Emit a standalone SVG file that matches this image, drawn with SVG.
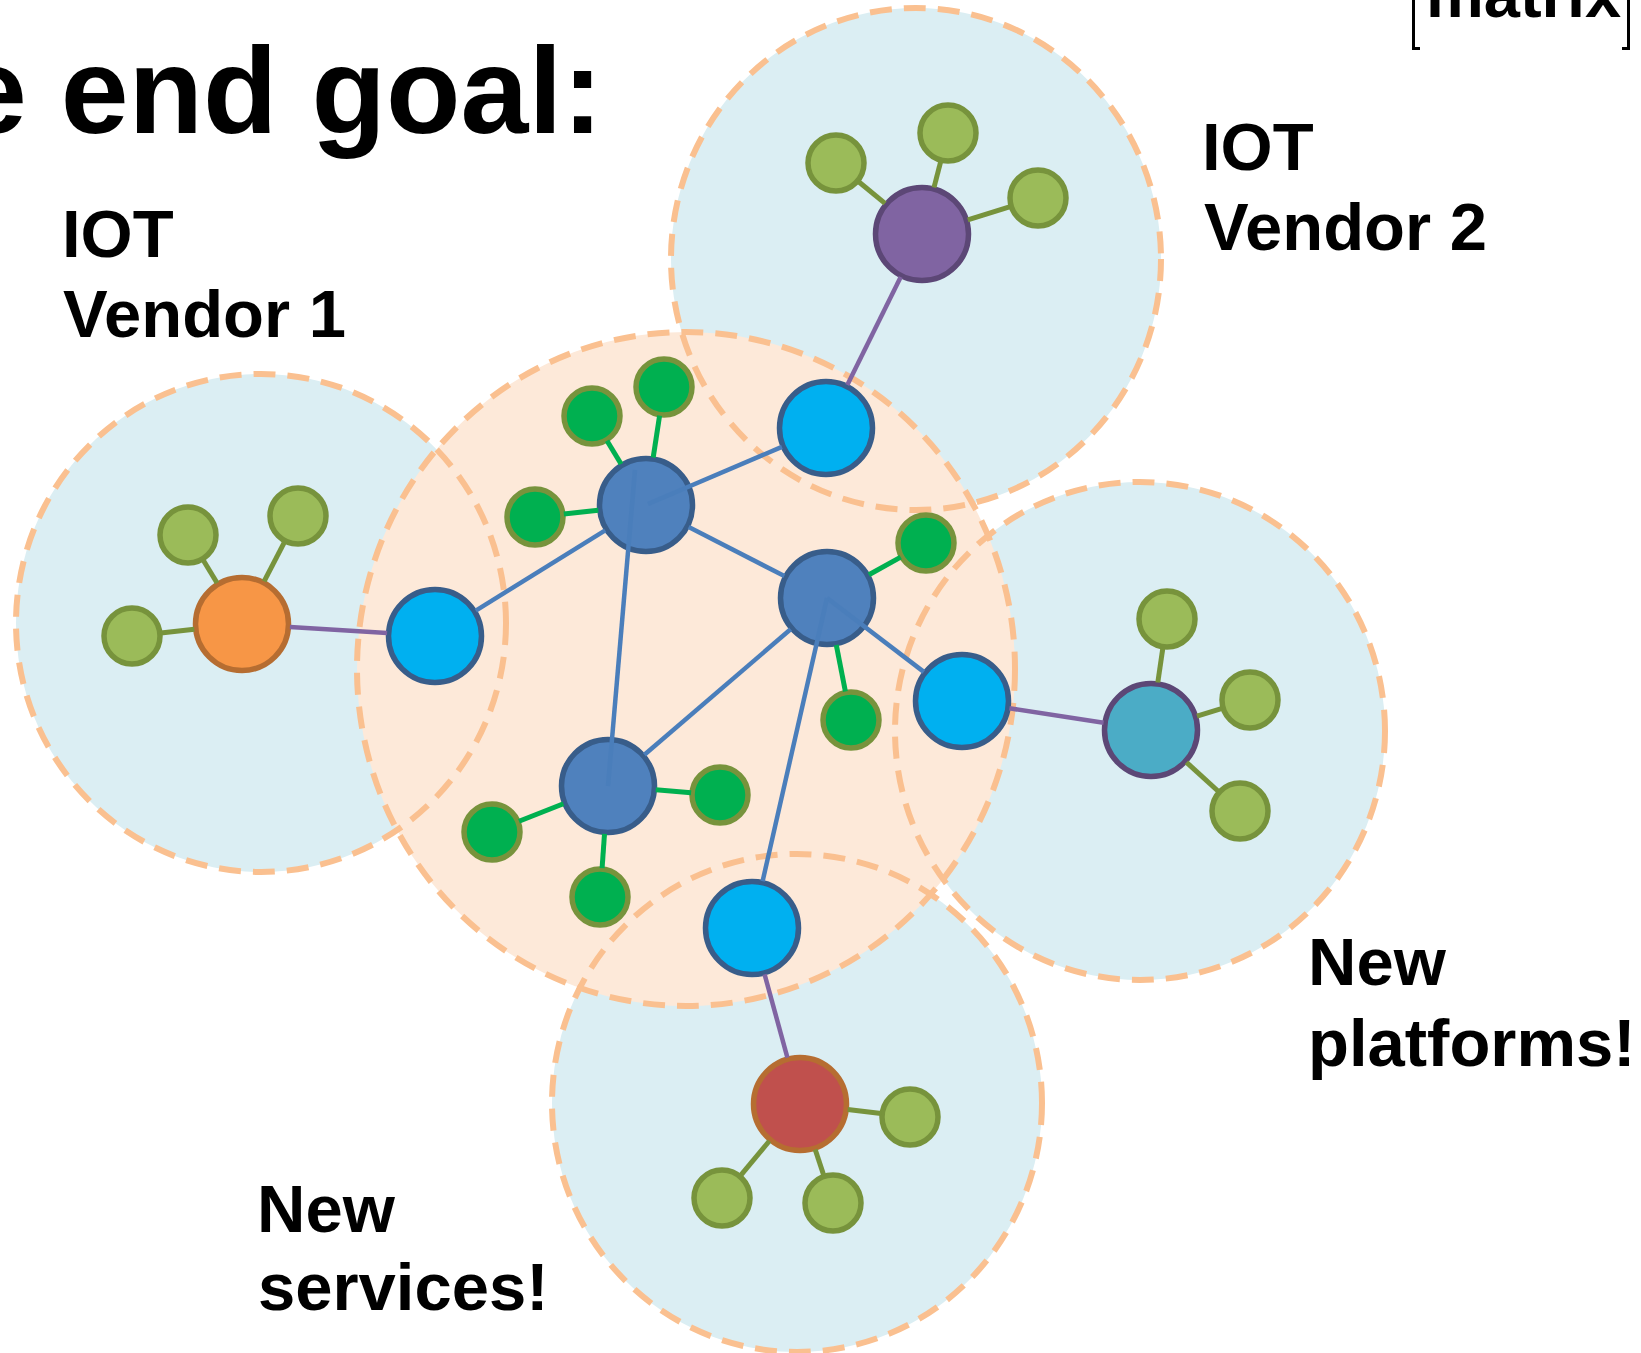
<svg xmlns="http://www.w3.org/2000/svg" width="1641" height="1353" viewBox="0 0 1641 1353">
<style>
.txt{font-family:"Liberation Sans",Arial,sans-serif;font-weight:bold;fill:#000}
.lbl{font-size:67px}
.rf-blue{fill:#DBEEF3}
.rf-peach{fill:#FDE9D9}
.ro{fill:none;stroke:#FAC090;stroke-width:6;stroke-dasharray:22 12}
.hub{fill:#4F81BD;stroke:#385D8A;stroke-width:5.5}
.cy{fill:#00B0F0;stroke:#385D8A;stroke-width:5.5}
.gd{fill:#00B050;stroke:#77933C;stroke-width:5.5}
.lg{fill:#9BBB59;stroke:#77933C;stroke-width:5.5}
.e-blue{stroke:#4A7EBB;stroke-width:4.5}
.e-purple{stroke:#8064A2;stroke-width:4.5}
.e-green{stroke:#00B050;stroke-width:5}
.e-olive{stroke:#77933C;stroke-width:5}
</style>
<rect width="1641" height="1353" fill="#FFFFFF"/>
<g id="region-fills">
<ellipse id="region-vendor1" class="rf-blue" cx="261" cy="623" rx="245" ry="249"/>
<ellipse id="region-vendor2" class="rf-blue" cx="916" cy="259" rx="245" ry="251"/>
<ellipse id="region-platforms" class="rf-blue" cx="1140" cy="731" rx="245" ry="249"/>
<ellipse id="region-services" class="rf-blue" cx="797" cy="1103" rx="245" ry="249"/>
<ellipse id="region-core" class="rf-peach" cx="686" cy="669" rx="329" ry="337"/>
</g>
<g id="region-outlines">
<ellipse class="ro" cx="261" cy="623" rx="245" ry="249"/>
<ellipse class="ro" cx="916" cy="259" rx="245" ry="251"/>
<ellipse class="ro" cx="1140" cy="731" rx="245" ry="249"/>
<ellipse class="ro" cx="797" cy="1103" rx="245" ry="249"/>
<ellipse class="ro" cx="686" cy="669" rx="329" ry="337"/>
</g>
<g id="nodes">
<g id="hub-top"><circle class="hub" cx="646" cy="505" r="46.5"/></g>
<g id="hub-mid"><circle class="hub" cx="827" cy="598" r="46.5"/></g>
<g id="hub-low"><circle class="hub" cx="608" cy="786" r="46.5"/></g>
<g id="gw-left"><circle class="cy" cx="435" cy="636" r="46.5"/></g>
<g id="gw-top"><circle class="cy" cx="826" cy="428" r="46.5"/></g>
<g id="gw-right"><circle class="cy" cx="962" cy="701" r="46.5"/></g>
<g id="gw-bottom"><circle class="cy" cx="752" cy="928" r="46.5"/></g>
<g id="core-g1"><circle class="gd" cx="535" cy="517" r="28"/></g>
<g id="core-g2"><circle class="gd" cx="592" cy="416" r="28"/></g>
<g id="core-g3"><circle class="gd" cx="664" cy="387" r="28"/></g>
<g id="core-g4"><circle class="gd" cx="926" cy="543" r="28"/></g>
<g id="core-g5"><circle class="gd" cx="851" cy="720" r="28"/></g>
<g id="core-g6"><circle class="gd" cx="492" cy="832" r="28"/></g>
<g id="core-g7"><circle class="gd" cx="720" cy="795" r="28"/></g>
<g id="core-g8"><circle class="gd" cx="600" cy="897" r="28"/></g>
<g id="vendor1-hub"><circle cx="242" cy="624" r="46.5" fill="#F79646" stroke="#B66D31" stroke-width="5.5"/></g>
<g id="vendor1-d1"><circle class="lg" cx="132" cy="636" r="28"/></g>
<g id="vendor1-d2"><circle class="lg" cx="188" cy="535" r="28"/></g>
<g id="vendor1-d3"><circle class="lg" cx="298" cy="516" r="28"/></g>
<g id="vendor2-hub"><circle cx="922" cy="234" r="46.5" fill="#8064A2" stroke="#5C4776" stroke-width="5.5"/></g>
<g id="vendor2-d1"><circle class="lg" cx="836" cy="163" r="28"/></g>
<g id="vendor2-d2"><circle class="lg" cx="948" cy="133" r="28"/></g>
<g id="vendor2-d3"><circle class="lg" cx="1038" cy="198" r="28"/></g>
<g id="platform-hub"><circle cx="1151" cy="730" r="46.5" fill="#4BACC6" stroke="#5C4776" stroke-width="5.5"/></g>
<g id="platform-d1"><circle class="lg" cx="1167" cy="619" r="28"/></g>
<g id="platform-d2"><circle class="lg" cx="1250" cy="700" r="28"/></g>
<g id="platform-d3"><circle class="lg" cx="1240" cy="811" r="28"/></g>
<g id="service-hub"><circle cx="800" cy="1104" r="46.5" fill="#C0504D" stroke="#B66D31" stroke-width="5.5"/></g>
<g id="service-d1"><circle class="lg" cx="910" cy="1117" r="28"/></g>
<g id="service-d2"><circle class="lg" cx="722" cy="1198" r="28"/></g>
<g id="service-d3"><circle class="lg" cx="833" cy="1203" r="28"/></g>
</g>
<g id="connectors" fill="none">
<line class="e-blue" x1="605.2" y1="530.3" x2="475.8" y2="610.7"/>
<line class="e-blue" x1="648" y1="504" x2="781.9" y2="446.9"/>
<line class="e-blue" x1="688.7" y1="526.9" x2="784.3" y2="576.1"/>
<line class="e-blue" x1="635" y1="470" x2="608" y2="786"/>
<line class="e-blue" x1="644.4" y1="754.7" x2="790.6" y2="629.3"/>
<line class="e-blue" x1="827" y1="598" x2="923.8" y2="671.9"/>
<line class="e-blue" x1="827" y1="598" x2="762.6" y2="881.2"/>
<line class="e-purple" x1="387.1" y1="633" x2="289.9" y2="627"/>
<line class="e-purple" x1="847.3" y1="385" x2="900.7" y2="277"/>
<line class="e-purple" x1="1009.4" y1="708.3" x2="1103.6" y2="722.7"/>
<line class="e-purple" x1="764.6" y1="974.3" x2="787.4" y2="1057.7"/>
<line class="e-green" x1="598.3" y1="510.2" x2="563.8" y2="513.9"/>
<line class="e-green" x1="621.1" y1="464" x2="607" y2="440.8"/>
<line class="e-green" x1="653.2" y1="457.5" x2="659.6" y2="415.7"/>
<line class="e-green" x1="868.9" y1="574.7" x2="900.7" y2="557.1"/>
<line class="e-green" x1="836.3" y1="645.1" x2="845.4" y2="691.5"/>
<line class="e-green" x1="563.4" y1="803.7" x2="519" y2="821.3"/>
<line class="e-green" x1="655.8" y1="789.8" x2="691.1" y2="792.7"/>
<line class="e-green" x1="604.5" y1="833.9" x2="602.1" y2="868.1"/>
<line class="e-olive" x1="194.3" y1="629.2" x2="160.8" y2="632.9"/>
<line class="e-olive" x1="217.1" y1="583" x2="203" y2="559.8"/>
<line class="e-olive" x1="264.1" y1="581.4" x2="284.7" y2="541.7"/>
<line class="e-olive" x1="885" y1="203.4" x2="858.4" y2="181.5"/>
<line class="e-olive" x1="934" y1="187.5" x2="940.8" y2="161.1"/>
<line class="e-olive" x1="967.8" y1="219.8" x2="1010.3" y2="206.6"/>
<line class="e-olive" x1="1157.8" y1="682.5" x2="1162.9" y2="647.7"/>
<line class="e-olive" x1="1197" y1="716.1" x2="1222.2" y2="708.4"/>
<line class="e-olive" x1="1186.5" y1="762.3" x2="1218.5" y2="791.5"/>
<line class="e-olive" x1="847.7" y1="1109.6" x2="881.2" y2="1113.6"/>
<line class="e-olive" x1="769.3" y1="1141" x2="740.5" y2="1175.7"/>
<line class="e-olive" x1="815.2" y1="1149.5" x2="823.8" y2="1175.5"/>
</g>
<g id="labels">
<text class="txt" x="-41" y="133" font-size="122">e end goal:</text>
<text class="txt lbl" x="62" y="257">IOT</text>
<text class="txt lbl" x="63" y="337">Vendor 1</text>
<text class="txt lbl" x="1202" y="170">IOT</text>
<text class="txt lbl" x="1204" y="250">Vendor 2</text>
<text class="txt lbl" x="1308" y="985">New</text>
<text class="txt lbl" x="1308" y="1066">platforms!</text>
<text class="txt lbl" x="257" y="1232">New</text>
<text class="txt lbl" x="258" y="1310">services!</text>
</g>
<g id="logo">
<text class="txt" x="1426" y="17" font-size="65">matrix</text>
<path d="M1420,48.5 H1413.5 V0 M1622,48.5 H1628.5 V0" fill="none" stroke="#000" stroke-width="3"/>
</g>
</svg>
